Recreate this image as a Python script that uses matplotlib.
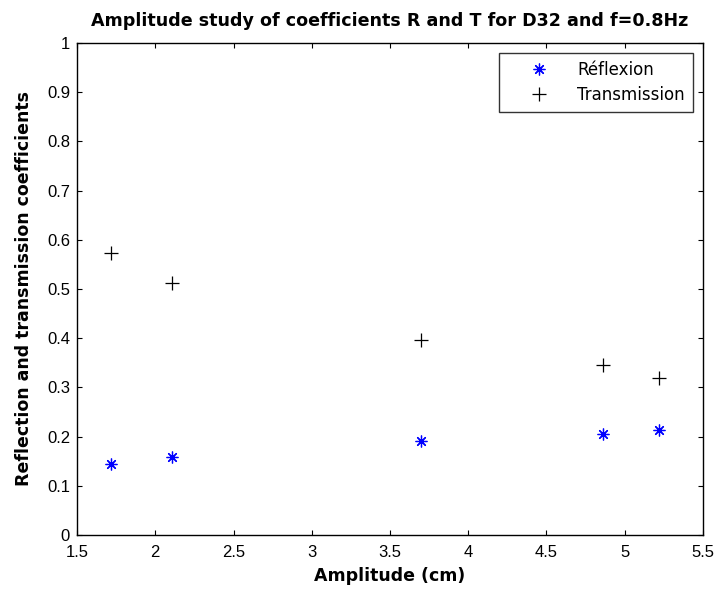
import matplotlib
matplotlib.use("Agg")
import matplotlib.pyplot as plt

plt.rcParams['font.family'] = ['Liberation Sans', 'DejaVu Sans']

amplitude = [1.72, 2.11, 3.70, 4.86, 5.22]
reflexion = [0.144, 0.159, 0.192, 0.206, 0.213]
transmission = [0.573, 0.512, 0.397, 0.346, 0.319]

xticks = [1.5, 2, 2.5, 3, 3.5, 4, 4.5, 5, 5.5]
yticks = [0, 0.1, 0.2, 0.3, 0.4, 0.5, 0.6, 0.7, 0.8, 0.9, 1]

fig = plt.figure(figsize=(7.15, 5.89), dpi=100)
ax = fig.add_axes([0.1077, 0.0917, 0.8755, 0.8353])

ax.plot(amplitude, reflexion, linestyle='none', marker=(8, 2, 0), color='#0000ff',
        markersize=8.5, markeredgewidth=0.9, label='Réflexion')
ax.plot(amplitude, transmission, linestyle='none', marker='+', color='black',
        markersize=9.5, markeredgewidth=0.9, label='Transmission')

ax.set_xlim(1.5, 5.5)
ax.set_ylim(0, 1)
ax.set_xticks(xticks)
ax.set_xticklabels([f'{t:g}' for t in xticks])
ax.set_yticks(yticks)
ax.set_yticklabels([f'{t:g}' for t in yticks])
ax.tick_params(direction='in', top=True, right=True, length=3.6, labelsize=12, width=0.8)
ax.tick_params(axis='x', pad=7)
ax.tick_params(axis='y', pad=5)
for s in ax.spines.values():
    s.set_linewidth(1.0)

bold = dict(family='DejaVu Sans', fontweight='bold')
ax.set_xlabel('Amplitude (cm)', fontsize=12.5, labelpad=5, **bold)
ax.set_ylabel('Reflection and transmission coefficients', fontsize=12.5, labelpad=10, **bold)
ax.set_title('Amplitude study of coefficients R and T for D32 and f=0.8Hz', fontsize=12.6,
             pad=12, **bold)

leg = ax.legend(loc='upper right', prop=dict(family='DejaVu Sans', size=12), frameon=True,
                fancybox=False, edgecolor='black', borderaxespad=0.6, handlelength=3.8,
                handletextpad=0.4, borderpad=0.5, labelspacing=0.4)
leg.get_frame().set_linewidth(1.0)

fig.savefig('out.png', dpi=100)
